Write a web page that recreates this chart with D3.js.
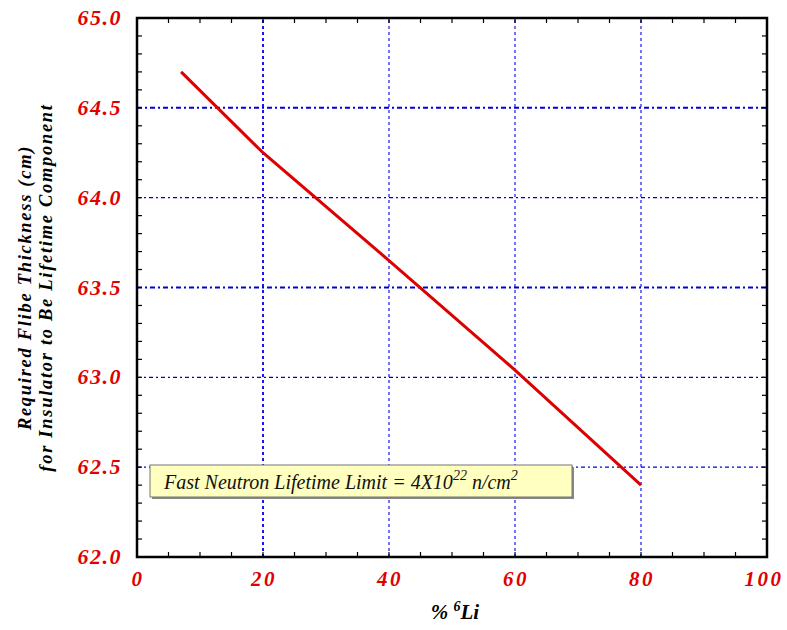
<!DOCTYPE html>
<html>
<head>
<meta charset="utf-8">
<script src="https://cdn.jsdelivr.net/npm/d3@7"></script>
<style>
  body { margin: 0; background: #fff; }
</style>
</head>
<body>
<div id="chart"></div>
<script>
const lithium = [7, 20, 40, 60, 80]
const thickness = [64.70, 64.25, 63.65, 63.04, 62.40]
const xTicks = [0, 20, 40, 60, 80, 100]
const yTicks = [62.0, 62.5, 63.0, 63.5, 64.0, 64.5, 65.0]
const yGridBold = [63.5, 64.5]

const dims = { width: 787, height: 630 }
const margin = { top: 18, right: 20, bottom: 73, left: 137 }
const serif = "'Liberation Serif', 'Times New Roman', Times, 'DejaVu Serif', serif"

const x = d3.scaleLinear().domain([0, 100]).range([margin.left, dims.width - margin.right])
const y = d3.scaleLinear().domain([62, 65]).range([dims.height - margin.bottom, margin.top])

const svg = d3.select('#chart')
  .append('svg')
  .attr('width', dims.width)
  .attr('height', dims.height)
  .attr('font-family', serif)
  .style('font-family', serif)

// grid
const grid = svg.append('g')
grid.selectAll('line.vx')
  .data(xTicks.slice(1, -1))
  .join('line')
  .attr('x1', d => x(d)).attr('x2', d => x(d))
  .attr('y1', y(62)).attr('y2', y(65))
  .attr('stroke', '#0000ee')
  .attr('stroke-width', d => d === 20 ? 1.8 : 1.1)
  .attr('stroke-dasharray', '3,3')

grid.selectAll('line.hy')
  .data(yTicks.slice(1, -1))
  .join('line')
  .attr('x1', x(0)).attr('x2', x(100))
  .attr('y1', d => y(d)).attr('y2', d => y(d))
  .attr('stroke', '#0000dd')
  .attr('stroke-width', d => yGridBold.includes(d) ? 2 : 1.1)
  .attr('stroke-dasharray', d => yGridBold.includes(d) ? '5,3,2,3' : '4,3,2,3')

// minor ticks on all four sides, pointing inward
const axes = svg.append('g').attr('stroke', '#000')
d3.range(0, 101, 5).forEach(v => {
  const len = 5
  axes.append('line').attr('x1', x(v)).attr('x2', x(v)).attr('y1', y(62)).attr('y2', y(62) - len).attr('stroke-width', 1.2)
  axes.append('line').attr('x1', x(v)).attr('x2', x(v)).attr('y1', y(65)).attr('y2', y(65) + len).attr('stroke-width', 1.2)
})
d3.range(620, 651, 1).forEach(k => {
  const v = k / 10
  const len = 5
  axes.append('line').attr('y1', y(v)).attr('y2', y(v)).attr('x1', x(0)).attr('x2', x(0) + len).attr('stroke-width', 1.2)
  axes.append('line').attr('y1', y(v)).attr('y2', y(v)).attr('x1', x(100)).attr('x2', x(100) - len).attr('stroke-width', 1.2)
})

svg.append('rect')
  .attr('x', x(0)).attr('y', y(65))
  .attr('width', x(100) - x(0)).attr('height', y(62) - y(65))
  .attr('fill', 'none').attr('stroke', '#000').attr('stroke-width', 2.5)

// data line
const line = d3.line().x((d, i) => x(lithium[i])).y(d => y(d))
svg.append('path')
  .datum(thickness)
  .attr('d', line)
  .attr('fill', 'none')
  .attr('stroke', '#dd0000')
  .attr('stroke-width', 3)

// tick labels
svg.append('g').selectAll('text')
  .data(xTicks)
  .join('text')
  .attr('x', d => x(d) + (d === 100 ? -3 : 1))
  .attr('y', y(62) + 29)
  .attr('text-anchor', 'middle')
  .attr('fill', '#e00000')
  .attr('font-size', 21)
  .attr('font-weight', 'bold')
  .attr('font-style', 'italic')
  .attr('letter-spacing', 2.5)
  .text(d => d)

svg.append('g').selectAll('text')
  .data(yTicks)
  .join('text')
  .attr('x', x(0) - 15)
  .attr('y', d => y(d) + 7)
  .attr('text-anchor', 'end')
  .attr('fill', '#e00000')
  .attr('font-size', 22)
  .attr('font-weight', 'bold')
  .attr('font-style', 'italic')
  .attr('letter-spacing', 1.5)
  .text(d => d.toFixed(1))

// axis titles
const xTitle = svg.append('text')
  .attr('x', 455)
  .attr('y', 619)
  .attr('text-anchor', 'middle')
  .attr('font-size', 21)
  .attr('font-weight', 'bold')
  .attr('font-style', 'italic')
xTitle.append('tspan').text('% ')
xTitle.append('tspan').attr('dy', -8).attr('font-size', 14).text('6')
xTitle.append('tspan').attr('dy', 8).text('Li')

const yTitle = svg.append('text')
  .attr('transform', `translate(0, ${(y(62) + y(65)) / 2}) rotate(-90)`)
  .attr('text-anchor', 'middle')
  .attr('font-size', 18.5)
  .attr('font-weight', 'bold')
  .attr('font-style', 'italic')
  .attr('letter-spacing', 1.7)
yTitle.append('tspan').attr('x', 0).attr('y', 31).text('Required  Flibe  Thickness  (cm)')
yTitle.append('tspan').attr('x', 0).attr('y', 52).text('for  Insulator  to  Be  Lifetime  Component')

// annotation
const note = svg.append('g').attr('transform', 'translate(150, 465)')
note.append('rect')
  .attr('x', 2).attr('y', 2)
  .attr('width', 422).attr('height', 32)
  .attr('fill', '#888')
note.append('rect')
  .attr('width', 422).attr('height', 32)
  .attr('fill', '#ffffc0')
  .attr('stroke', '#777')
  .attr('stroke-width', 1)
const noteText = note.append('text')
  .attr('x', 14).attr('y', 24)
  .attr('font-size', 20)
  .attr('font-style', 'italic')
  .attr('fill', '#111')
noteText.append('tspan').text('Fast Neutron Lifetime Limit = 4X10')
noteText.append('tspan').attr('dy', -9).attr('font-size', 14).text('22')
noteText.append('tspan').attr('dy', 9).text(' n/cm')
noteText.append('tspan').attr('dy', -9).attr('font-size', 14).text('2')
</script>
</body>
</html>
